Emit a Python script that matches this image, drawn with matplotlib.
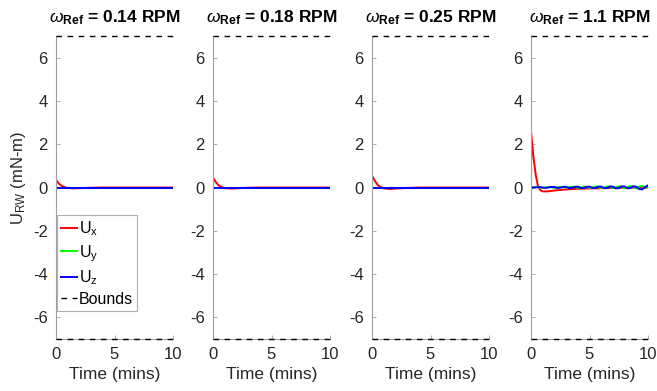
import numpy as np
import matplotlib.pyplot as plt

plt.rcParams['font.family'] = ['Liberation Sans', 'DejaVu Sans']
plt.rcParams['mathtext.fontset'] = 'custom'
plt.rcParams['mathtext.rm'] = 'Liberation Sans'
plt.rcParams['mathtext.it'] = 'Liberation Sans:italic'
plt.rcParams['mathtext.bf'] = 'Liberation Sans:bold'
plt.rcParams['axes.unicode_minus'] = False

# reference rates for each run
rates = ['0.14', '0.18', '0.25', '1.1']
bound = 7.0

# slow runs: x torque decays quickly, y/z stay at zero
t_slow = [0, 0.25, 0.5, 0.75, 1.0, 1.5, 2.0, 3.0, 4.0, 6.0, 8.0, 10.0]
ux_014 = [0.35, 0.18, 0.07, 0.01, -0.02, -0.04, -0.03, -0.01, 0.0, 0.0, 0.0, 0.0]
ux_018 = [0.45, 0.24, 0.09, 0.02, -0.03, -0.05, -0.04, -0.01, 0.0, 0.0, 0.0, 0.0]
ux_025 = [0.55, 0.30, 0.11, 0.02, -0.04, -0.07, -0.05, -0.02, 0.0, 0.0, 0.0, 0.0]
uy_slow = [0.0] * len(t_slow)
uz_slow = [0.0] * len(t_slow)

# fast run
t_fx = [0, 0.02, 0.2, 0.4, 0.6, 0.8, 1.0, 1.4, 2.0, 3.0, 4.0, 5.0, 6.0, 7.0, 8.0, 9.0, 10.0]
ux_11 = [0.0, 2.5, 1.45, 0.6, 0.05, -0.12, -0.18, -0.18, -0.14, -0.09, -0.06, -0.04, -0.03, -0.02, -0.01, -0.01, 0.0]
t_fyz = [0, 0.25, 0.5, 0.75, 1.0, 1.25, 1.5, 1.75, 2.0, 2.25, 2.5, 2.75, 3.0, 3.25,
         3.5, 3.75, 4.0, 4.25, 4.5, 4.75, 5.0, 5.25, 5.5, 5.75, 6.0, 6.25, 6.5,
         6.75, 7.0, 7.25, 7.5, 7.75, 8.0, 8.25, 8.5, 8.75, 9.0, 9.25, 9.5, 9.75, 10.0]
uy_11 = [0.0, 0.01, 0.02, 0.0, -0.02, 0.01, 0.03, 0.01, -0.02, 0.0, 0.03, 0.02, -0.01,
         0.01, 0.04, 0.02, -0.02, 0.0, 0.04, 0.03, -0.02, 0.01, 0.05, 0.03, -0.03,
         0.0, 0.05, 0.04, -0.03, 0.01, 0.06, 0.03, -0.04, 0.02, 0.07, 0.03, -0.05,
         0.05, 0.08, -0.03, 0.07]
uz_11 = [0.0, 0.0, 0.01, 0.02, 0.0, -0.02, 0.0, 0.03, 0.02, -0.02, -0.01, 0.03,
         0.03, -0.02, -0.02, 0.03, 0.04, -0.02, -0.03, 0.03, 0.04, -0.02, -0.03,
         0.04, 0.04, -0.03, -0.03, 0.05, 0.04, -0.04, -0.03, 0.05, 0.05, -0.04,
         -0.02, 0.06, 0.03, -0.07, -0.09, 0.02, 0.1]

runs = [
    (t_slow, ux_014, t_slow, uy_slow, uz_slow),
    (t_slow, ux_018, t_slow, uy_slow, uz_slow),
    (t_slow, ux_025, t_slow, uy_slow, uz_slow),
    (t_fx, ux_11, t_fyz, uy_11, uz_11),
]

fig = plt.figure(figsize=(6.57, 3.91), dpi=100)
lefts = [56, 213, 372, 531]
tick_col = '#262626'
spine_col = '#a0a0a0'

for i, (tx, ux, tyz, uy, uz) in enumerate(runs):
    ax = fig.add_axes([lefts[i] / 657, 1 - 339 / 391, 117 / 657, 303 / 391])
    ax.plot(tx, ux, color=(1, 0, 0), lw=1.4, label=r'U$_\mathrm{x}$')
    ax.plot(tyz, uy, color=(0, 1, 0), lw=1.4, label=r'U$_\mathrm{y}$')
    ax.plot(tyz, uz, color=(0, 0, 1), lw=1.4, label=r'U$_\mathrm{z}$')
    ax.plot([0, 10], [bound, bound], 'k--', lw=1.0, clip_on=False, zorder=3,
            label='Bounds', dashes=(4, 4))
    ax.plot([0, 10], [-bound, -bound], 'k--', lw=1.0, clip_on=False, zorder=3,
            dashes=(4, 4))

    ax.set_xlim(0, 10)
    ax.set_ylim(-7, 7)
    ax.set_xticks([0, 5, 10])
    ax.set_yticks([-6, -4, -2, 0, 2, 4, 6])
    for s in ['top', 'right']:
        ax.spines[s].set_visible(False)
    for s in ['left', 'bottom']:
        ax.spines[s].set_color(spine_col)
        ax.spines[s].set_linewidth(0.8)
    ax.tick_params(direction='in', length=3, width=0.6, color=spine_col,
                   labelcolor=tick_col, labelsize=12, pad=6)
    ax.set_xlabel('Time (mins)', fontsize=12.5, color=tick_col, labelpad=3)
    ax.set_title(r'$\omega_{\mathbf{Ref}}$ = ' + rates[i] + ' RPM',
                 fontsize=12.5, fontweight='bold', pad=10)

    if i == 0:
        ax.set_ylabel(r'U$_\mathrm{RW}$ (mN-m)', fontsize=12, color=tick_col)
        ax.yaxis.set_label_coords(-0.24, 0.53)
        leg = ax.legend(loc='lower left', bbox_to_anchor=(0.005, 0.093),
                        borderaxespad=0, fontsize=11.5, handlelength=1.0,
                        handletextpad=0.15, borderpad=0.25, labelspacing=0.3,
                        fancybox=False, framealpha=1)
        leg.get_frame().set_edgecolor('#b0b0b0')
        leg.get_frame().set_linewidth(0.8)

fig.savefig('out.png', dpi=100)
